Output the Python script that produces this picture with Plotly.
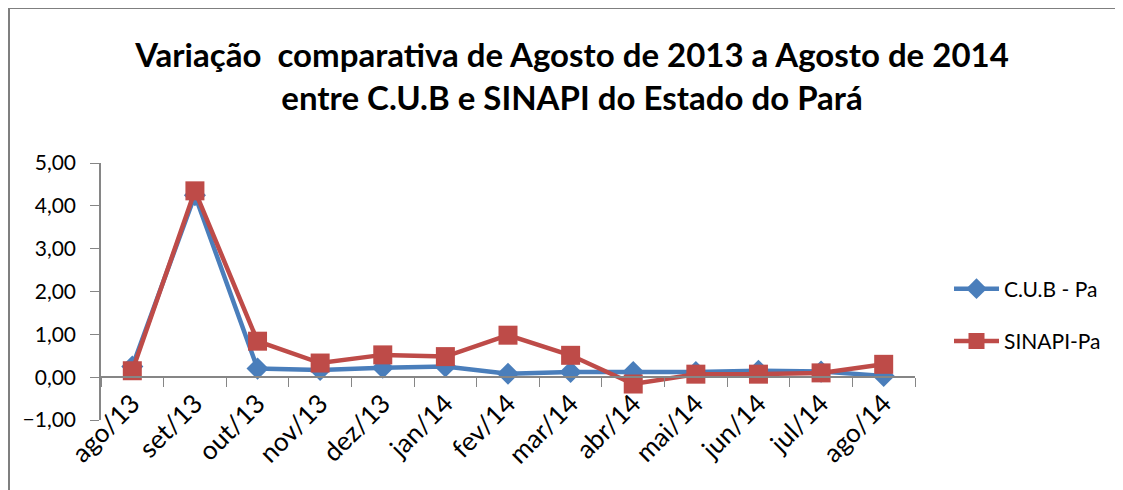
import plotly.graph_objects as go

months = ["ago/13", "set/13", "out/13", "nov/13", "dez/13", "jan/14", "fev/14",
          "mar/14", "abr/14", "mai/14", "jun/14", "jul/14", "ago/14"]
cub_pa = [0.25, 4.25, 0.20, 0.17, 0.22, 0.25, 0.08, 0.12, 0.12, 0.12, 0.15, 0.13, 0.03]
sinapi_pa = [0.15, 4.35, 0.84, 0.33, 0.52, 0.48, 0.98, 0.51, -0.16, 0.07, 0.07, 0.10, 0.30]
series_names = ["C.U.B - Pa", "SINAPI-Pa"]
y_ticks = [-1, 0, 1, 2, 3, 4, 5]

FONT = "Lato"
BLUE = "#4A7EBB"
RED = "#BE4B48"
GRAY = "#868686"

# the page body adds an 8px offset; figure is sized/placed to compensate
W, H = 1115, 482
L, R, T, B = 93, 208, 155, 70

fig = go.Figure()
fig.add_trace(go.Scatter(
    x=months, y=cub_pa, name=series_names[0], mode="lines+markers",
    line=dict(color=BLUE, width=4.5),
    marker=dict(symbol="diamond", size=17, color=BLUE),
    legendgroup="a",
))
fig.add_trace(go.Scatter(
    x=months, y=sinapi_pa, name=series_names[1], mode="lines+markers",
    line=dict(color=RED, width=4.5),
    marker=dict(symbol="square", size=19, color=RED),
    legendgroup="b",
))

pw = W - L - R
ph = H - T - B
def px_x(p):
    return (p - L) / pw
def px_y(p):
    return (H - B - p) / ph

# outer chart frame (left and top edges visible)
fig.add_shape(type="line", xref="paper", yref="paper",
              x0=px_x(1), x1=px_x(1130), y0=px_y(0), y1=px_y(0),
              line=dict(color="#7f7f7f", width=2))
fig.add_shape(type="line", xref="paper", yref="paper",
              x0=px_x(1), x1=px_x(1), y0=px_y(0), y1=px_y(500),
              line=dict(color="#7f7f7f", width=2))

fig.update_layout(
    width=W, height=H,
    margin=dict(l=L, r=R, t=T, b=B, autoexpand=False),
    paper_bgcolor="white", plot_bgcolor="white",
    separators=",.",
    font=dict(family=FONT, size=21, color="#000000"),
    title=dict(
        text="Variação  comparativa de Agosto de 2013 a Agosto de 2014<br>entre C.U.B e SINAPI do Estado do Pará",
        x=564 / W, xref="container", xanchor="center",
        y=1 - 59 / H, yref="container", yanchor="top",
        font=dict(family=FONT, size=33, color="#000000", weight="bold"),
    ),
    legend=dict(
        x=px_x(941), y=px_y(307), xanchor="left", yanchor="middle",
        font=dict(family=FONT, size=21),
        tracegroupgap=22, itemwidth=45,
        bgcolor="rgba(0,0,0,0)",
    ),
    showlegend=True,
)

fig.update_xaxes(
    type="category", range=[-0.5, len(months) - 0.5],
    tickson="boundaries", ticks="outside", ticklen=9, tickcolor=GRAY, tickwidth=1,
    showline=True, linecolor=GRAY, linewidth=1.5,
    showgrid=False, zeroline=False, automargin=False,
    anchor="free", position=1 / 6,
    tickangle=-45, tickfont=dict(family=FONT, size=26),
)
fig.update_yaxes(
    range=[-1, 5], tickvals=y_ticks, tickformat=".2f",
    ticks="outside", ticklen=9, tickcolor=GRAY, tickwidth=1,
    showline=True, linecolor=GRAY, linewidth=1.5,
    showgrid=False, zeroline=False, automargin=False,
    ticklabelstandoff=10,
    tickfont=dict(family=FONT, size=21),
)

fig.write_html("out.html")
